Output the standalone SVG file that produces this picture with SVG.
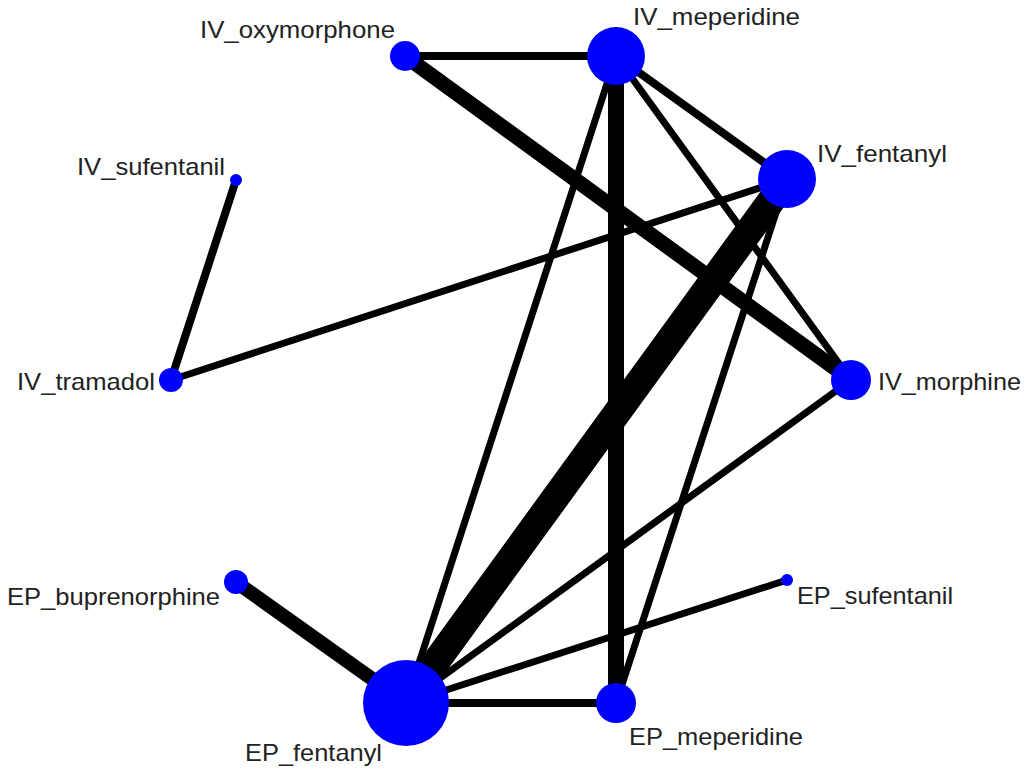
<svg xmlns="http://www.w3.org/2000/svg" width="1030" height="774" viewBox="0 0 1030 774">
<style>
.e{stroke:#000;stroke-linecap:round;fill:none}
.n{fill:#0000ff}
.t{font-family:"Liberation Sans",Arial,sans-serif;font-size:24px;fill:#222}
</style>
<rect width="1030" height="774" fill="#fff"/>
<g id="edges">
<line class="e" x1="405" y1="56" x2="616" y2="56" stroke-width="8"/>
<line class="e" x1="405" y1="56" x2="851" y2="380" stroke-width="15"/>
<line class="e" x1="616" y1="56" x2="616" y2="703" stroke-width="16"/>
<line class="e" x1="616" y1="56" x2="406" y2="703" stroke-width="7"/>
<line class="e" x1="616" y1="56" x2="787" y2="179" stroke-width="8"/>
<line class="e" x1="616" y1="56" x2="851" y2="380" stroke-width="7"/>
<line class="e" x1="787" y1="179" x2="406" y2="703" stroke-width="28"/>
<line class="e" x1="787" y1="179" x2="171" y2="380" stroke-width="7"/>
<line class="e" x1="787" y1="179" x2="616" y2="703" stroke-width="7"/>
<line class="e" x1="236" y1="180" x2="171" y2="380" stroke-width="8"/>
<line class="e" x1="236" y1="582" x2="406" y2="703" stroke-width="14"/>
<line class="e" x1="406" y1="703" x2="616" y2="703" stroke-width="8"/>
<line class="e" x1="406" y1="703" x2="851" y2="380" stroke-width="7"/>
<line class="e" x1="406" y1="703" x2="787" y2="580" stroke-width="7"/>
</g>
<g id="IV_oxymorphone"><circle class="n" cx="405" cy="56" r="15"/><text class="t" x="200" y="38" textLength="195" lengthAdjust="spacingAndGlyphs">IV_oxymorphone</text></g>
<g id="IV_meperidine"><circle class="n" cx="616" cy="56" r="29"/><text class="t" x="633" y="25" textLength="167" lengthAdjust="spacingAndGlyphs">IV_meperidine</text></g>
<g id="IV_fentanyl"><circle class="n" cx="787" cy="179" r="29"/><text class="t" x="817" y="162" textLength="130" lengthAdjust="spacingAndGlyphs">IV_fentanyl</text></g>
<g id="IV_sufentanil"><circle class="n" cx="236" cy="180" r="6"/><text class="t" x="77" y="175" textLength="148" lengthAdjust="spacingAndGlyphs">IV_sufentanil</text></g>
<g id="IV_tramadol"><circle class="n" cx="171" cy="380" r="12"/><text class="t" x="17" y="390" textLength="138" lengthAdjust="spacingAndGlyphs">IV_tramadol</text></g>
<g id="IV_morphine"><circle class="n" cx="851" cy="380" r="20"/><text class="t" x="878" y="390" textLength="143" lengthAdjust="spacingAndGlyphs">IV_morphine</text></g>
<g id="EP_buprenorphine"><circle class="n" cx="236" cy="582" r="12"/><text class="t" x="7" y="605" textLength="213" lengthAdjust="spacingAndGlyphs">EP_buprenorphine</text></g>
<g id="EP_sufentanil"><circle class="n" cx="787" cy="580" r="6"/><text class="t" x="797" y="604" textLength="156" lengthAdjust="spacingAndGlyphs">EP_sufentanil</text></g>
<g id="EP_fentanyl"><circle class="n" cx="406" cy="703" r="43"/><text class="t" x="245" y="761" textLength="137" lengthAdjust="spacingAndGlyphs">EP_fentanyl</text></g>
<g id="EP_meperidine"><circle class="n" cx="616" cy="703" r="20"/><text class="t" x="629" y="745" textLength="174" lengthAdjust="spacingAndGlyphs">EP_meperidine</text></g>
</svg>
